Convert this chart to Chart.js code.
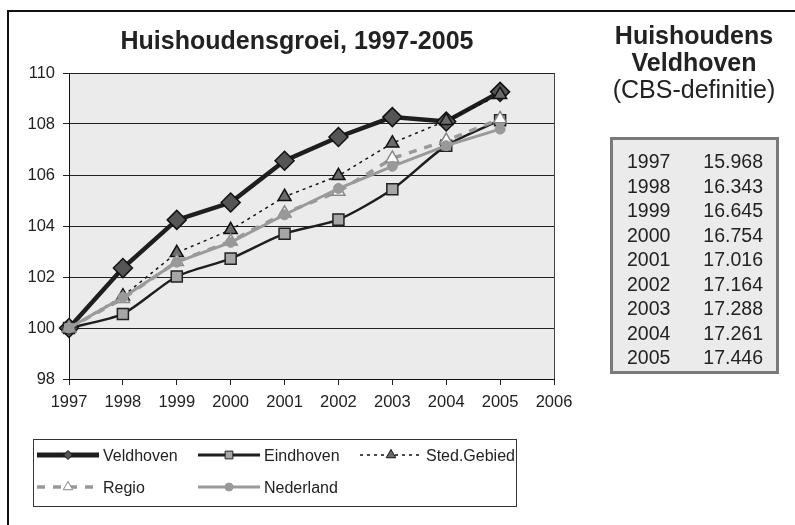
<!DOCTYPE html>
<html>
<head>
<meta charset="utf-8">
<script src="https://cdn.jsdelivr.net/npm/chart.js@4.4.1/dist/chart.umd.min.js"></script>
<style>
  body { margin: 0; background: #fff; }
  #wrap { position: relative; width: 795px; height: 525px; overflow: hidden; }
  #frame { position: absolute; left: 7px; top: 10px; width: 900px; height: 700px; border: 2px solid #111; }
  canvas { position: absolute; left: 0; top: 0; }
</style>
</head>
<body>
<div id="wrap">
  <div id="frame"></div>
  <canvas id="groeiChart" width="795" height="525"></canvas>
</div>
<script>
// Axis categories
const years = ['1997', '1998', '1999', '2000', '2001', '2002', '2003', '2004', '2005', '2006'];

// Index series (1997 = 100)
const veldhoven  = [100, 102.35, 104.24, 104.92, 106.56, 107.49, 108.27, 108.10, 109.26];
const eindhoven  = [100, 100.55, 102.02, 102.72, 103.70, 104.25, 105.44, 107.15, 108.15];
const stedGebied = [100, 101.25, 102.95, 103.85, 105.15, 105.97, 107.25, 108.13, 109.15];
const regio      = [100, 101.15, 102.60, 103.40, 104.50, 105.35, 106.65, 107.35, 108.20];
const nederland  = [100, 101.20, 102.58, 103.36, 104.44, 105.47, 106.34, 107.15, 107.80];

// Side table: households Veldhoven
const tableYears = ['1997', '1998', '1999', '2000', '2001', '2002', '2003', '2004', '2005'];
const households = ['15.968', '16.343', '16.645', '16.754', '17.016', '17.164', '17.288', '17.261', '17.446'];

const FONT = "'Liberation Sans', Arial, sans-serif";
const TEXT = '#222';

// Plot background, titles, legend and side table
const decorations = {
    id: 'decorations',
    beforeDraw(chart) {
        const ctx = chart.ctx;
        const a = chart.chartArea;
        ctx.save();
        ctx.fillStyle = '#ebebeb';
        ctx.fillRect(a.left, a.top, a.right - a.left, a.bottom - a.top);
        ctx.restore();
    },
    afterDraw(chart) {
        const ctx = chart.ctx;
        const a = chart.chartArea;
        ctx.save();

        // right edge of plot area
        ctx.strokeStyle = '#444';
        ctx.lineWidth = 1;
        ctx.beginPath();
        ctx.moveTo(Math.round(a.right) + 0.5, a.top);
        ctx.lineTo(Math.round(a.right) + 0.5, a.bottom);
        ctx.stroke();

        // chart title
        ctx.fillStyle = TEXT;
        ctx.textAlign = 'center';
        ctx.textBaseline = 'alphabetic';
        ctx.font = 'bold 25px ' + FONT;
        ctx.fillText('Huishoudensgroei, 1997-2005', 297, 49);

        // side titles
        ctx.fillText('Huishoudens', 694, 44);
        ctx.fillText('Veldhoven', 694, 71);
        ctx.font = '25px ' + FONT;
        ctx.fillText('(CBS-definitie)', 694, 98);

        // side table
        ctx.fillStyle = '#ebebeb';
        ctx.fillRect(611.5, 138.5, 166, 234);
        ctx.strokeStyle = '#7a7a7a';
        ctx.lineWidth = 3;
        ctx.strokeRect(611.5, 138.5, 166, 234);
        ctx.fillStyle = TEXT;
        ctx.font = '19.5px ' + FONT;
        tableYears.forEach((y, i) => {
            const base = 168 + i * 24.5;
            ctx.textAlign = 'left';
            ctx.fillText(y, 627, base);
            ctx.textAlign = 'right';
            ctx.fillText(households[i], 763, base);
        });

        // legend
        ctx.fillStyle = '#fff';
        ctx.fillRect(33.5, 439.5, 483, 67);
        ctx.strokeStyle = '#333';
        ctx.lineWidth = 1;
        ctx.strokeRect(33.5, 439.5, 483, 67);
        const slots = [[37, 455], [198, 455], [360, 455], [37, 487], [198, 487]];
        chart.data.datasets.forEach((ds, i) => {
            const [x, y] = slots[i];
            ctx.save();
            ctx.strokeStyle = ds.borderColor;
            ctx.lineWidth = ds.legendLine;
            ctx.setLineDash(ds.borderDash || []);
            ctx.beginPath();
            ctx.moveTo(x, y);
            ctx.lineTo(x + 62, y);
            ctx.stroke();
            ctx.setLineDash([]);
            ctx.fillStyle = ds.pointBackgroundColor;
            ctx.strokeStyle = ds.pointBorderColor;
            ctx.lineWidth = 1;
            Chart.helpers.drawPoint(ctx, {
                pointStyle: ds.pointStyle,
                radius: ds.legendRadius,
                rotation: 0,
                borderWidth: 1
            }, x + 31, y);
            ctx.restore();
            ctx.fillStyle = TEXT;
            ctx.textAlign = 'left';
            ctx.font = '16px ' + FONT;
            ctx.fillText(ds.label, x + 66, y + 6);
        });

        ctx.restore();
    }
};

new Chart(document.getElementById('groeiChart').getContext('2d'), {
    type: 'line',
    data: {
        labels: years,
        datasets: [{
            label: 'Veldhoven',
            data: veldhoven,
            borderColor: '#1e1e1e',
            borderWidth: 4.5,
            pointStyle: 'rectRot',
            pointRadius: 9.5,
            pointBackgroundColor: '#555',
            pointBorderColor: '#111',
            pointBorderWidth: 1.5,
            legendRadius: 4.5,
            legendLine: 5,
            order: 5
        }, {
            label: 'Eindhoven',
            data: eindhoven,
            borderColor: '#1e1e1e',
            borderWidth: 2.5,
            tension: 0.25,
            pointStyle: 'rect',
            pointRadius: 7.8,
            pointBackgroundColor: '#a6a6a6',
            pointBorderColor: '#222',
            pointBorderWidth: 1.5,
            legendRadius: 5.5,
            legendLine: 3,
            order: 4
        }, {
            label: 'Sted.Gebied',
            data: stedGebied,
            borderColor: '#111',
            borderWidth: 1.5,
            borderDash: [3, 4],
            pointStyle: 'triangle',
            pointRadius: 7.5,
            pointBackgroundColor: '#6b6b6b',
            pointBorderColor: '#111',
            pointBorderWidth: 1.5,
            legendRadius: 5.5,
            legendLine: 1.5,
            order: 3
        }, {
            label: 'Regio',
            data: regio,
            borderColor: '#999',
            borderWidth: 3.5,
            borderDash: [8, 8],
            pointStyle: 'triangle',
            pointRadius: 7.5,
            pointBackgroundColor: '#fff',
            pointBorderColor: '#888',
            pointBorderWidth: 1.5,
            legendRadius: 5.5,
            legendLine: 3.5,
            order: 2
        }, {
            label: 'Nederland',
            data: nederland,
            borderColor: '#9a9a9a',
            borderWidth: 3,
            pointStyle: 'circle',
            pointRadius: 5,
            pointBackgroundColor: '#999',
            pointBorderColor: '#999',
            pointBorderWidth: 1,
            legendRadius: 4,
            legendLine: 3,
            order: 1
        }]
    },
    options: {
        responsive: false,
        animation: false,
        layout: {
            padding: { left: 0, right: 241, top: 73, bottom: 106 }
        },
        plugins: {
            legend: { display: false },
            title: { display: false },
            tooltip: { enabled: false }
        },
        scales: {
            x: {
                offset: false,
                afterFit: scale => { scale.height = 40; },
                grid: { drawOnChartArea: false, tickLength: 6, color: '#222' },
                border: { color: '#111', width: 1 },
                ticks: {
                    color: TEXT,
                    font: { family: FONT, size: 16.5 },
                    padding: 8,
                    maxRotation: 0,
                    autoSkip: false
                }
            },
            y: {
                min: 98,
                max: 110,
                afterFit: scale => { scale.width = 69; },
                grid: { color: '#222', lineWidth: 1, tickLength: 6 },
                border: { color: '#111', width: 1 },
                ticks: {
                    stepSize: 2,
                    color: TEXT,
                    font: { family: FONT, size: 16.5 },
                    padding: 8
                }
            }
        }
    },
    plugins: [decorations]
});
</script>
</body>
</html>
